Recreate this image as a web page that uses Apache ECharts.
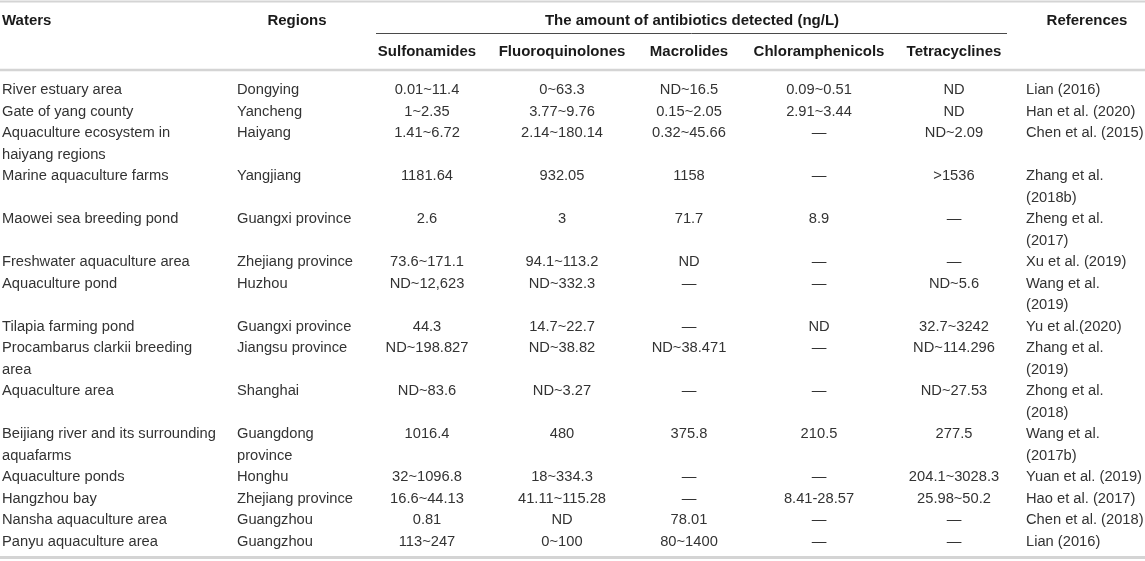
<!DOCTYPE html>
<html lang="en">
<head>
    <meta charset="UTF-8">
    <title>Antibiotics in aquaculture waters</title>
    <style>
        html, body { margin: 0; padding: 0; background: #fff; }
        #main { width: 1145px; height: 561px; }
    </style>
</head>
<body>
    <div id="main"></div>
    <script src="https://cdn.jsdelivr.net/npm/echarts@6/dist/echarts.min.js"></script>
    <script>
    // table content, one array per column
    const waters = [
        'River estuary area', 'Gate of yang county', 'Aquaculture ecosystem in\nhaiyang regions',
        'Marine aquaculture farms', 'Maowei sea breeding pond', 'Freshwater aquaculture area',
        'Aquaculture pond', 'Tilapia farming pond', 'Procambarus clarkii breeding\narea',
        'Aquaculture area', 'Beijiang river and its surrounding\naquafarms', 'Aquaculture ponds',
        'Hangzhou bay', 'Nansha aquaculture area', 'Panyu aquaculture area'
    ];
    const regions = [
        'Dongying', 'Yancheng', 'Haiyang', 'Yangjiang', 'Guangxi province', 'Zhejiang province',
        'Huzhou', 'Guangxi province', 'Jiangsu province', 'Shanghai', 'Guangdong\nprovince',
        'Honghu', 'Zhejiang province', 'Guangzhou', 'Guangzhou'
    ];
    const sulfonamides = ['0.01~11.4', '1~2.35', '1.41~6.72', '1181.64', '2.6', '73.6~171.1', 'ND~12,623',
        '44.3', 'ND~198.827', 'ND~83.6', '1016.4', '32~1096.8', '16.6~44.13', '0.81', '113~247'];
    const fluoroquinolones = ['0~63.3', '3.77~9.76', '2.14~180.14', '932.05', '3', '94.1~113.2', 'ND~332.3',
        '14.7~22.7', 'ND~38.82', 'ND~3.27', '480', '18~334.3', '41.11~115.28', 'ND', '0~100'];
    const macrolides = ['ND~16.5', '0.15~2.05', '0.32~45.66', '1158', '71.7', 'ND', '—',
        '—', 'ND~38.471', '—', '375.8', '—', '—', '78.01', '80~1400'];
    const chloramphenicols = ['0.09~0.51', '2.91~3.44', '—', '—', '8.9', '—', '—',
        'ND', '—', '—', '210.5', '—', '8.41-28.57', '—', '—'];
    const tetracyclines = ['ND', 'ND', 'ND~2.09', '>1536', '—', '—', 'ND~5.6',
        '32.7~3242', 'ND~114.296', 'ND~27.53', '277.5', '204.1~3028.3', '25.98~50.2', '—', '—'];
    const references = ['Lian (2016)', 'Han et al. (2020)', 'Chen et al. (2015)', 'Zhang et al.\n(2018b)',
        'Zheng et al.\n(2017)', 'Xu et al. (2019)', 'Wang et al.\n(2019)', 'Yu et al.(2020)',
        'Zhang et al.\n(2019)', 'Zhong et al.\n(2018)', 'Wang et al.\n(2017b)', 'Yuan et al. (2019)',
        'Hao et al. (2017)', 'Chen et al. (2018)', 'Lian (2016)'];

    const topHeaders = ['Waters', 'Regions', 'The amount of antibiotics detected (ng/L)', 'References'];
    const subHeaders = ['Sulfonamides', 'Fluoroquinolones', 'Macrolides', 'Chloramphenicols', 'Tetracyclines'];

    const FONT = '"Liberation Sans", Arial, Helvetica, sans-serif';
    const LH = 21.5;          // line height of body text
    const BODY_TOP = 90;      // centre of first body line

    // column layout: x anchor and alignment
    const columns = [
        { data: waters, x: 2, align: 'left' },
        { data: regions, x: 237, align: 'left' },
        { data: sulfonamides, x: 427, align: 'center' },
        { data: fluoroquinolones, x: 562, align: 'center' },
        { data: macrolides, x: 689, align: 'center' },
        { data: chloramphenicols, x: 819, align: 'center' },
        { data: tetracyclines, x: 954, align: 'center' },
        { data: references, x: 1026, align: 'left' }
    ];

    const elements = [];

    function text(str, x, yCenter, align, bold, color) {
        elements.push({
            type: 'text',
            silent: true,
            style: {
                text: str,
                x: x,
                y: yCenter - LH / 2,
                align: align,
                verticalAlign: 'top',
                lineHeight: LH,
                fill: color,
                font: (bold ? 'bold 15px ' : '14.7px ') + FONT
            }
        });
    }

    function hline(x1, x2, y, w, color) {
        elements.push({
            type: 'line',
            silent: true,
            shape: { x1: x1, y1: y, x2: x2, y2: y },
            style: { stroke: color, lineWidth: w }
        });
    }

    // rules
    hline(0, 1145, 1.5, 2, '#d4d4d4');
    hline(376, 1007, 33.5, 1, '#4a4a4a');
    hline(0, 1145, 70, 2.5, '#d4d4d4');
    hline(0, 1145, 557.5, 3, '#d4d4d4');

    // header
    const HEAD = '#1a1a1a';
    text(topHeaders[0], 2, 21, 'left', true, HEAD);
    text(topHeaders[1], 297, 21, 'center', true, HEAD);
    text(topHeaders[2], 692, 21, 'center', true, HEAD);
    text(topHeaders[3], 1087, 21, 'center', true, HEAD);
    subHeaders.forEach(function (h, i) {
        text(h, columns[i + 2].x, 52, 'center', true, HEAD);
    });

    // body rows, height = max lines in the row
    let line = 0;
    waters.forEach(function (w, r) {
        let maxLines = 1;
        columns.forEach(function (c) {
            const y = BODY_TOP + line * LH;
            text(c.data[r], c.x, y, c.align, false, '#333');
            maxLines = Math.max(maxLines, c.data[r].split('\n').length);
        });
        line += maxLines;
    });

    const myChart = echarts.init(document.getElementById('main'));
    myChart.setOption({
        backgroundColor: '#fff',
        animation: false,
        graphic: { elements: elements }
    });
    </script>
</body>
</html>
